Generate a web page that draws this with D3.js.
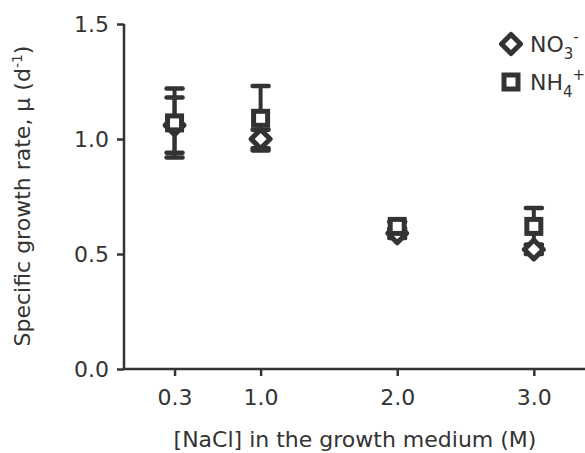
<!DOCTYPE html>
<html><head><meta charset="utf-8">
<script src="https://cdn.jsdelivr.net/npm/d3@7"></script>
<style>body{margin:0;background:#fff}svg{display:block}text{font-family:"DejaVu Sans",Verdana,sans-serif;fill:#333}</style>
</head><body>
<svg id="c" width="585" height="453"></svg>
<script>
const categories = ["0.3","1.0","2.0","3.0"];
const categoryPos = [0.37, 1, 2, 3];
const no3Mean = [1.06, 1.00, 0.59, 0.52];
const no3Err  = [0.12, 0.04, 0.02, 0.02];
const nh4Mean = [1.07, 1.09, 0.62, 0.62];
const nh4Err  = [0.15, 0.14, 0.02, 0.08];
const yTicks = [0, 0.5, 1.0, 1.5];

const col = "#333";
const svg = d3.select("#c");
const x = d3.scaleLinear().domain([0, 3.36]).range([124, 583]);
const y = d3.scaleLinear().domain([0, 1.5]).range([369, 24]);

const yAx = svg.append("g").attr("transform","translate(124,0)")
  .call(d3.axisLeft(y).tickValues(yTicks).tickFormat(d3.format(".1f")).tickSize(7).tickPadding(8));
const xAx = svg.append("g").attr("transform","translate(0,369)")
  .call(d3.axisBottom(x).tickValues(categoryPos).tickFormat((d,i)=>categories[i]).tickSize(7).tickPadding(13));
[yAx,xAx].forEach(g=>{
  g.selectAll("path,line").attr("stroke",col).attr("stroke-width",2.5);
  g.select(".domain").attr("d", g===yAx ? "M0,24V369" : "M124,0H585");
  g.selectAll("text").style("font-size","22px").attr("fill",col);
});

const series = [
  {name:"NO3", mean:no3Mean, err:no3Err, shape:"diamond"},
  {name:"NH4", mean:nh4Mean, err:nh4Err, shape:"square"}
];
function marker(g, shape, cx, cy){
  if(shape==="diamond"){
    const r=9.5;
    g.append("path").attr("d",`M${cx},${cy-r}L${cx+r},${cy}L${cx},${cy+r}L${cx-r},${cy}Z`)
      .attr("fill","#fff").attr("stroke",col).attr("stroke-width",5).attr("stroke-linejoin","round");
  } else {
    const s=14;
    g.append("rect").attr("x",cx-s/2).attr("y",cy-s/2).attr("width",s).attr("height",s)
      .attr("fill","#fff").attr("stroke",col).attr("stroke-width",5);
  }
}
const plot = svg.append("g");
series.forEach(s=>{
  s.mean.forEach((m,i)=>{
    const cx=x(categoryPos[i]);
    const lo=y(m-s.err[i]), hi=y(m+s.err[i]);
    plot.append("line").attr("x1",cx).attr("x2",cx).attr("y1",lo).attr("y2",hi).attr("stroke",col).attr("stroke-width",4);
    [lo,hi].forEach(yy=>plot.append("line").attr("x1",cx-8).attr("x2",cx+8).attr("y1",yy).attr("y2",yy)
      .attr("stroke",col).attr("stroke-width",4.5).attr("stroke-linecap","round"));
  });
});
series.forEach(s=>{
  s.mean.forEach((m,i)=>marker(plot, s.shape, x(categoryPos[i]), y(m)));
});

const lg = svg.append("g");
marker(lg,"diamond",511,44);
marker(lg,"square",511,82);
const t1 = lg.append("text").attr("x",530).attr("y",52).style("font-size","22px");
t1.append("tspan").text("NO");
t1.append("tspan").text("3").attr("dy",7).style("font-size","15px");
t1.append("tspan").text("-").attr("dy",-17).style("font-size","15px");
const t2 = lg.append("text").attr("x",530).attr("y",90).style("font-size","22px");
t2.append("tspan").text("NH");
t2.append("tspan").text("4").attr("dy",7).style("font-size","15px");
t2.append("tspan").text("+").attr("dy",-17).style("font-size","15px");

svg.append("text").attr("x",355).attr("y",447).attr("text-anchor","middle").style("font-size","22px")
  .text("[NaCl] in the growth medium (M)");
const yt = svg.append("text").attr("transform","translate(30,196) rotate(-90)").attr("text-anchor","middle").style("font-size","22px");
yt.append("tspan").text("Specific growth rate, μ (d");
yt.append("tspan").text("-1").attr("dy",-8).style("font-size","14px");
yt.append("tspan").text(")").attr("dy",8);
</script>
</body></html>
